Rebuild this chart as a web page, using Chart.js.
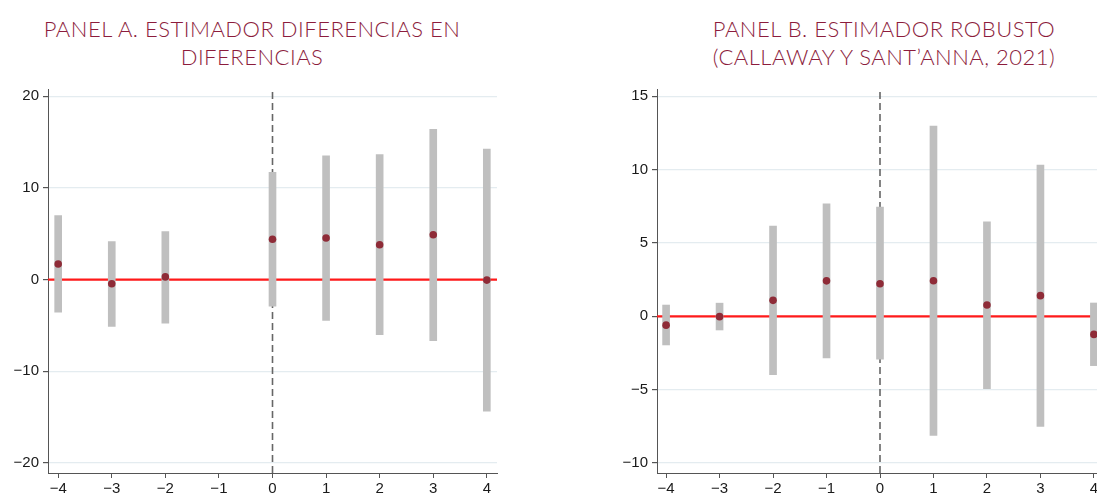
<!DOCTYPE html>
<html>
<head>
<meta charset="utf-8">
<script src="https://cdn.jsdelivr.net/npm/chart.js@4.4.0/dist/chart.umd.min.js"></script>
<style>
  html, body { margin: 0; padding: 0; width: 1097px; height: 496px; overflow: hidden; background: #fff; }
  .title { position: absolute; top: 15px; width: 520px; text-align: center; font-family: Lato, sans-serif;
           font-weight: 300; font-size: 22px; line-height: 27.5px; letter-spacing: 0.5px; color: #8c1c3c; }
  #titleA { left: -8px; }
  #titleB { left: 624px; }
  .box { position: absolute; top: 0; width: 510px; height: 496px; }
</style>
</head>
<body>
<div class="title" id="titleA">PANEL A. ESTIMADOR DIFERENCIAS EN<br>DIFERENCIAS</div>
<div class="title" id="titleB">PANEL B. ESTIMADOR ROBUSTO<br>(CALLAWAY Y SANT’ANNA, 2021)</div>
<div class="box" style="left:0"><canvas id="chartA"></canvas></div>
<div class="box" style="left:600px"><canvas id="chartB"></canvas></div>
<script>
// event-study periods shown on the x axis
const xTicks = [-4, -3, -2, -1, 0, 1, 2, 3, 4];

// Panel A: diff-in-diff (no estimate at -1)
const periodsA = [-4, -3, -2, 0, 1, 2, 3, 4];
const coefA = [1.7, -0.45, 0.3, 4.4, 4.55, 3.8, 4.9, -0.05];
const lowA = [-3.55, -5.1, -4.75, -2.9, -4.45, -6.0, -6.65, -14.35];
const highA = [7.0, 4.15, 5.25, 11.7, 13.5, 13.65, 16.4, 14.25];
const yTicksA = [-20, -10, 0, 10, 20];

// Panel B: Callaway & Sant'Anna
const periodsB = [-4, -3, -2, -1, 0, 1, 2, 3, 4];
const coefB = [-0.6, -0.02, 1.09, 2.42, 2.22, 2.43, 0.77, 1.41, -1.23];
const lowB = [-1.95, -0.93, -3.97, -2.84, -2.92, -8.11, -4.93, -7.5, -3.36];
const highB = [0.77, 0.9, 6.16, 7.67, 7.45, 12.97, 6.45, 10.31, 0.91];
const yTicksB = [-10, -5, 0, 5, 10, 15];

Chart.defaults.font.family = '"Liberation Sans", Arial, sans-serif';
Chart.defaults.font.size = 15;
Chart.defaults.color = '#1a1a1a';

const fmt = (v) => String(v).replace('-', '\u2212');

function makePanel(id, periods, coef, low, high, yTicks, xMin, xMax, yMin, yMax, yWidth, padRight) {
  new Chart(document.getElementById(id), {
    type: 'bar',
    data: {
      datasets: [
        {
          type: 'scatter',
          data: periods.map((p, i) => ({ x: p, y: coef[i] })),
          backgroundColor: '#8e2b37',
          borderWidth: 0,
          pointRadius: 3.8,
          order: 0,
        },
        {
          type: 'bar',
          data: periods.map((p, i) => ({ x: p, y: [low[i], high[i]] })),
          backgroundColor: '#bfbfbf',
          borderWidth: 0,
          borderSkipped: false,
          barThickness: 7,
          order: 1,
        },
        {
          type: 'line',
          data: [{ x: 0, y: yMin }, { x: 0, y: yMax }],
          borderColor: '#666',
          borderWidth: 1.6,
          borderDash: [7, 4],
          pointRadius: 0,
          order: 2,
        },
        {
          type: 'line',
          data: [{ x: xMin, y: 0 }, { x: xMax, y: 0 }],
          borderColor: '#ff1a1a',
          borderWidth: 2.2,
          pointRadius: 0,
          order: 3,
        },
      ],
    },
    options: {
      responsive: true,
      maintainAspectRatio: false,
      animation: false,
      layout: { padding: { top: 89, right: padRight, left: 0, bottom: 0 } },
      plugins: { legend: { display: false }, tooltip: { enabled: false } },
      scales: {
        x: {
          type: 'linear',
          min: xMin,
          max: xMax,
          offset: false,
          grid: { offset: false, drawOnChartArea: false, color: '#555', tickColor: '#555', tickLength: 5 },
          border: { color: '#555', width: 1 },
          ticks: { padding: 2, callback: fmt },
          afterBuildTicks: (s) => { s.ticks = xTicks.map((v) => ({ value: v })); },
          afterFit: (s) => { s.height = 23; },
        },
        y: {
          min: yMin,
          max: yMax,
          grid: { color: '#e4ecf0', lineWidth: 1.2, tickColor: '#555', tickLength: 5 },
          border: { color: '#555', width: 1 },
          ticks: { padding: 4, callback: fmt },
          afterBuildTicks: (s) => { s.ticks = yTicks.map((v) => ({ value: v })); },
          afterFit: (s) => { s.width = yWidth; },
        },
      },
    },
  });
}

makePanel('chartA', periodsA, coefA, lowA, highA, yTicksA, -4.19, 4.19, -21.1, 20.8, 48, 13);
makePanel('chartB', periodsB, coefB, lowB, highB, yTicksB, -4.17, 4.17, -10.68, 15.5, 57, 7);
</script>
</body>
</html>
